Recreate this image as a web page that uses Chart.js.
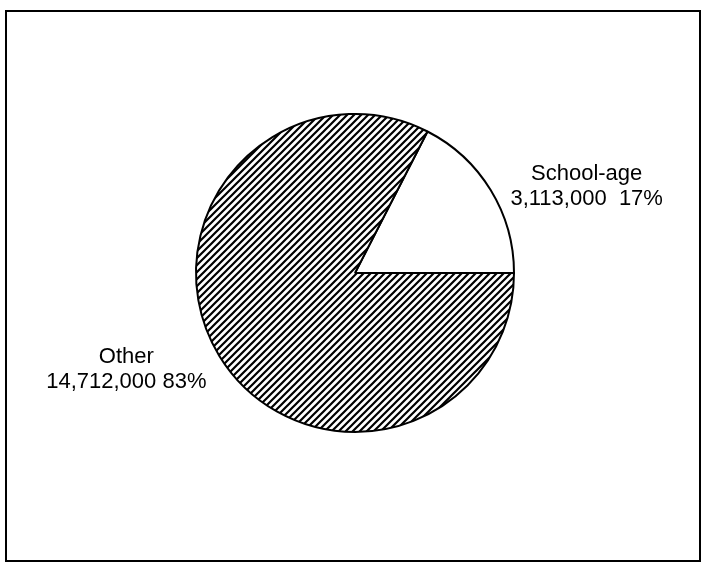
<!DOCTYPE html>
<html>
<head>
<meta charset="utf-8">
<script src="https://cdn.jsdelivr.net/npm/chart.js@4/dist/chart.umd.min.js"></script>
<style>
	body { margin: 0; background: #fff; }
	canvas { display: block; }
</style>
</head>
<body>
<canvas id="pieChart" width="704" height="563"></canvas>
<script>
var labels = ['School-age', 'Other'];
var counts = [3113000, 14712000];
var countLabels = ['3,113,000', '14,712,000'];

// diagonal hatch for the "Other" slice
function hatch() {
	var p = 7;
	var c = document.createElement('canvas');
	c.width = p;
	c.height = p;
	var g = c.getContext('2d');
	g.fillStyle = '#fff';
	g.fillRect(0, 0, p, p);
	g.strokeStyle = '#000';
	g.lineWidth = 2.2;
	g.beginPath();
	g.moveTo(-1, p + 1);
	g.lineTo(p + 1, -1);
	g.moveTo(-1, 1);
	g.lineTo(1, -1);
	g.moveTo(p - 1, p + 1);
	g.lineTo(p + 1, p - 1);
	g.stroke();
	return g.createPattern(c, 'repeat');
}

var total = counts.reduce(function (a, b) { return a + b; }, 0);
var startDeg = counts[0] / total * 360;

var framePlugin = {
	id: 'frame',
	beforeDraw: function (chart) {
		var ctx = chart.ctx;
		ctx.save();
		ctx.fillStyle = '#fff';
		ctx.fillRect(0, 0, chart.width, chart.height);
		ctx.strokeStyle = '#000';
		ctx.lineWidth = 2;
		ctx.strokeRect(6, 11, 694, 550);
		ctx.restore();
	}
};

var labelOffsets = [[96, -10], [-93, 7]];
var gaps = ['  ', ' '];

var sliceLabels = {
	id: 'sliceLabels',
	afterDraw: function (chart) {
		var ctx = chart.ctx;
		var arcs = chart.getDatasetMeta(0).data;
		ctx.save();
		ctx.fillStyle = '#000';
		ctx.font = '22px "Liberation Sans", Arial, sans-serif';
		ctx.textAlign = 'center';
		ctx.textBaseline = 'alphabetic';
		arcs.forEach(function (arc, i) {
			var mid = (arc.startAngle + arc.endAngle) / 2;
			var x = arc.x + Math.cos(mid) * arc.outerRadius + labelOffsets[i][0];
			var y = arc.y + Math.sin(mid) * arc.outerRadius + labelOffsets[i][1];
			var pct = Math.round(counts[i] / total * 100) + '%';
			ctx.fillText(labels[i], x, y);
			ctx.fillText(countLabels[i] + gaps[i] + pct, x, y + 25);
		});
		ctx.restore();
	}
};

var ctx = document.getElementById('pieChart').getContext('2d');
var myChart = new Chart(ctx, {
	type: 'pie',
	data: {
		labels: labels,
		datasets: [{
			data: counts,
			backgroundColor: ['#fff', hatch()],
			borderColor: '#000',
			borderWidth: 2
		}]
	},
	options: {
		responsive: false,
		animation: false,
		rotation: 90 - startDeg,
		layout: {
			padding: { left: 195, right: 189, top: 113, bottom: 130 }
		},
		plugins: {
			legend: { display: false },
			tooltip: { enabled: false }
		}
	},
	plugins: [framePlugin, sliceLabels]
});
</script>
</body>
</html>
